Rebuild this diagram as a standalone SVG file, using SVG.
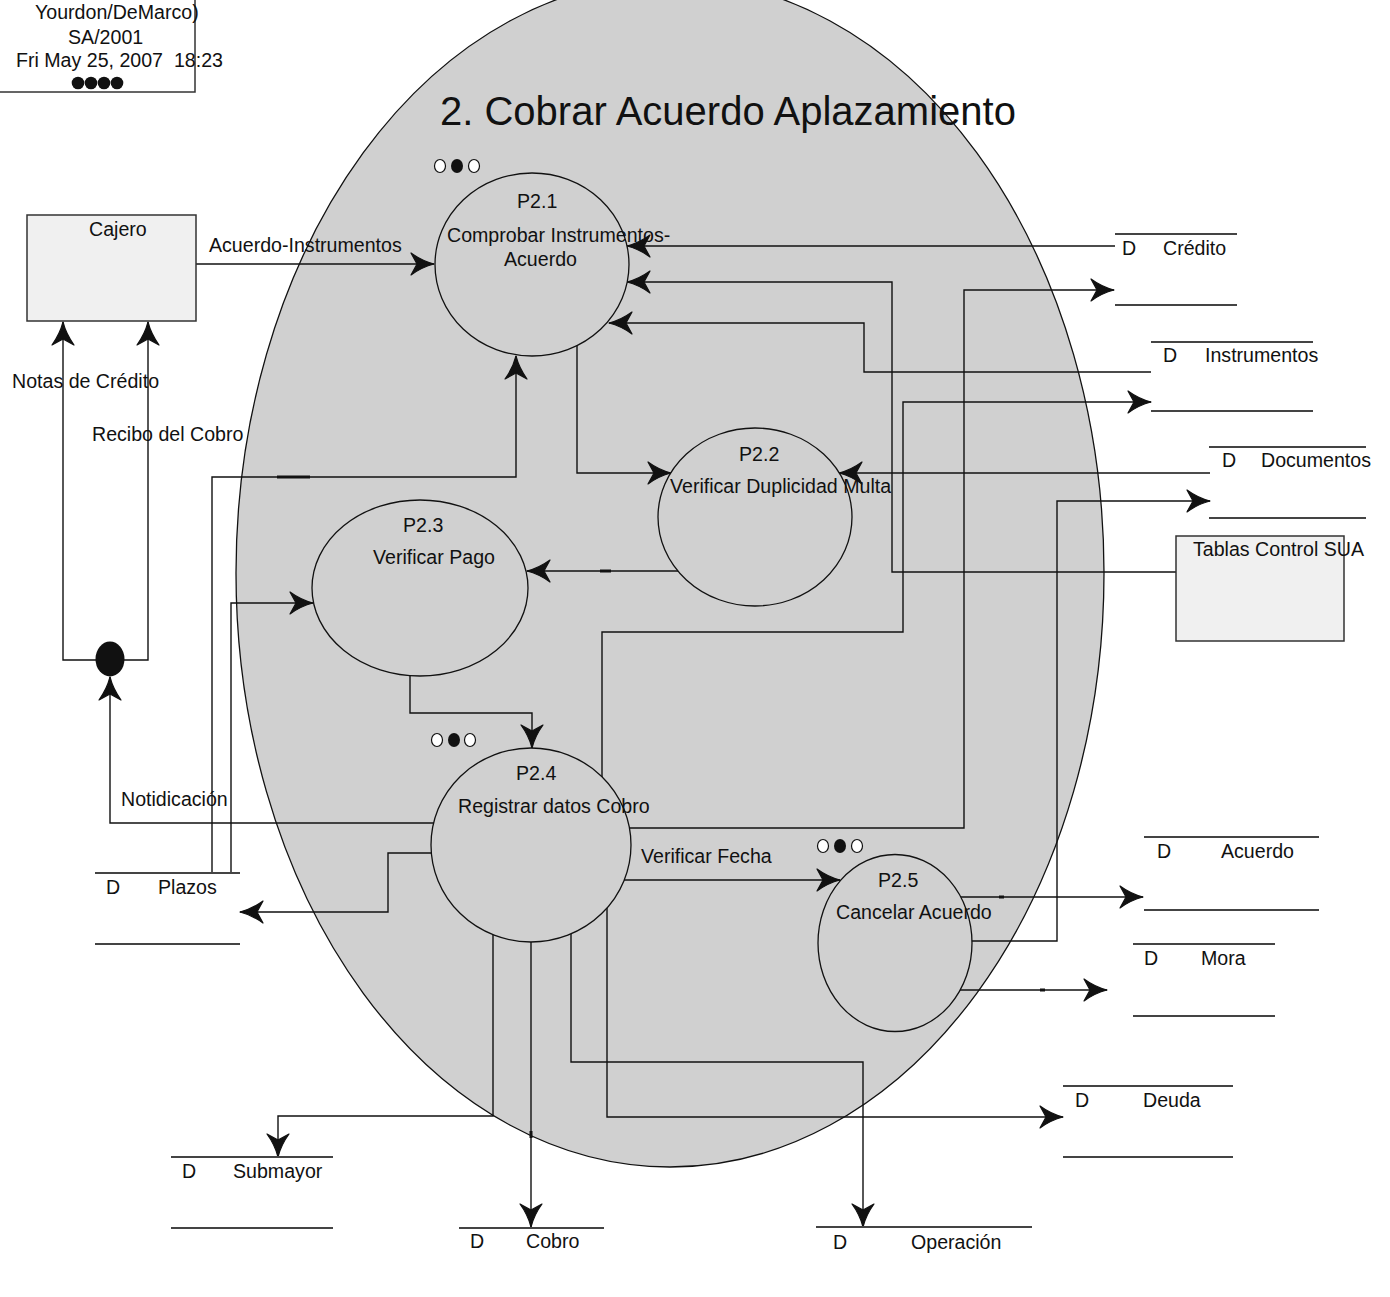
<svg xmlns="http://www.w3.org/2000/svg" width="1390" height="1297" viewBox="0 0 1390 1297">
  <style>
    .t { font-family: "Liberation Sans", Arial, sans-serif; font-size: 19.6px; fill: #111; }
    .title { font-size: 40px; }
    .conn { fill: none; stroke: #111; stroke-width: 1.4; }
    .tick { fill: none; stroke: #111; stroke-width: 3; }
    .proc { fill: #d0d0d0; stroke: #111; stroke-width: 1.3; }
    .ent { fill: #f0f0f0; stroke: #333; stroke-width: 1.5; }
    .store { stroke: #444; stroke-width: 1.8; }
    .dotf { fill: #111; }
    .doto { fill: #fff; stroke: #111; stroke-width: 1.2; }
  </style>
  <defs>
    <marker id="ah" viewBox="-26 -13 28 26" refX="0" refY="0" markerWidth="28" markerHeight="26" markerUnits="userSpaceOnUse" orient="auto">
      <path d="M0,0 Q-12,-3 -23,-11 L-17,0 L-23,11 Q-12,3 0,0 Z" fill="#111" stroke="#111" stroke-width="1.2" stroke-linejoin="round"/>
    </marker>
  </defs>

  <rect width="1390" height="1297" fill="#fff"/>

  <!-- parent process boundary -->
  <g id="proc-2">
    <ellipse class="proc" cx="670" cy="573" rx="434" ry="594"/>
    <text class="t title" x="440" y="125">2. Cobrar Acuerdo Aplazamiento</text>
  </g>

  <!-- header stamp -->
  <g id="header">
    <rect x="-2" y="-2" width="197" height="94" fill="#fff" stroke="#333" stroke-width="1.5"/>
    <text class="t" x="35" y="19">Yourdon/DeMarco)</text>
    <text class="t" x="68" y="44">SA/2001</text>
    <text class="t" x="16" y="67" xml:space="preserve">Fri May 25, 2007  18:23</text>
    <circle class="dotf" cx="78" cy="83" r="6.3"/>
    <circle class="dotf" cx="91" cy="83" r="6.3"/>
    <circle class="dotf" cx="104" cy="83" r="6.3"/>
    <circle class="dotf" cx="117" cy="83" r="6.3"/>
  </g>

  <!-- data flows -->
  <g id="connectors">
    <!-- Cajero -> P2.1 -->
    <path class="conn" d="M196,264 H434" marker-end="url(#ah)"/>
    <text class="t" x="209" y="252">Acuerdo-Instrumentos</text>
    <!-- Crédito -> P2.1 -->
    <path class="conn" d="M1115,246 H627" marker-end="url(#ah)"/>
    <!-- Tablas Control SUA -> P2.1 -->
    <path class="conn" d="M1176,572 H892 V282 H627" marker-end="url(#ah)"/>
    <!-- Instrumentos -> P2.1 -->
    <path class="conn" d="M1151,372 H864 V323 H609" marker-end="url(#ah)"/>
    <!-- P2.1 -> P2.2 -->
    <path class="conn" d="M577,345 V473 H671" marker-end="url(#ah)"/>
    <!-- Documentos -> P2.2 -->
    <path class="conn" d="M1210,473 H839" marker-end="url(#ah)"/>
    <!-- P2.2 -> P2.3 -->
    <path class="conn" d="M678,571 H527" marker-end="url(#ah)"/>
    <path class="tick" d="M600,571 H611"/>
    <!-- Plazos -> P2.3 -->
    <path class="conn" d="M231,873 V603 H313" marker-end="url(#ah)"/>
    <!-- Plazos -> P2.1 -->
    <path class="conn" d="M212,873 V477 H516 V356" marker-end="url(#ah)"/>
    <path class="tick" d="M277,477 H310"/>
    <!-- P2.3 -> P2.4 -->
    <path class="conn" d="M410,676 V713 H532 V748" marker-end="url(#ah)"/>
    <!-- P2.4 -> Notidicación junction -->
    <path class="conn" d="M434,823 H110 V677" marker-end="url(#ah)"/>
    <text class="t" x="121" y="806">Notidicación</text>
    <!-- junction -> Cajero -->
    <path class="conn" d="M96,660 H63 V322" marker-end="url(#ah)"/>
    <path class="conn" d="M124,660 H148 V322" marker-end="url(#ah)"/>
    <text class="t" x="12" y="388">Notas de Crédito</text>
    <text class="t" x="92" y="441">Recibo del Cobro</text>
    <!-- P2.4 -> Plazos -->
    <path class="conn" d="M433,853 H388 V912 H240" marker-end="url(#ah)"/>
    <!-- P2.4 -> Crédito -->
    <path class="conn" d="M630,828 H964 V290 H1114" marker-end="url(#ah)"/>
    <!-- P2.4 -> Instrumentos -->
    <path class="conn" d="M602,777 V632 H903 V402 H1151" marker-end="url(#ah)"/>
    <!-- P2.4 -> P2.5 -->
    <path class="conn" d="M624,880 H840" marker-end="url(#ah)"/>
    <text class="t" x="641" y="863">Verificar Fecha</text>
    <!-- P2.5 -> Acuerdo -->
    <path class="conn" d="M961,897 H1143" marker-end="url(#ah)"/>
    <path class="tick" d="M999,897 H1004"/>
    <!-- P2.5 -> Documentos -->
    <path class="conn" d="M971,941 H1057 V501 H1210" marker-end="url(#ah)"/>
    <!-- P2.5 -> Mora -->
    <path class="conn" d="M959,990 H1107" marker-end="url(#ah)"/>
    <path class="tick" d="M1040,990 H1045"/>
    <!-- P2.4 -> Submayor -->
    <path class="conn" d="M493,935 V1116 H278 V1157" marker-end="url(#ah)"/>
    <!-- P2.4 -> Cobro -->
    <path class="conn" d="M531,942 V1227" marker-end="url(#ah)"/>
    <path class="tick" d="M531,1131 V1138"/>
    <!-- P2.4 -> Operación -->
    <path class="conn" d="M571,934 V1062 H863 V1227" marker-end="url(#ah)"/>
    <!-- P2.4 -> Deuda -->
    <path class="conn" d="M607,907 V1117 H1063" marker-end="url(#ah)"/>
  </g>

  <!-- external entities -->
  <g id="cajero">
    <rect class="ent" x="27" y="215" width="169" height="106"/>
    <text class="t" x="89" y="236">Cajero</text>
  </g>
  <g id="tablas-control-sua">
    <rect class="ent" x="1176" y="536" width="168" height="105"/>
    <text class="t" x="1193" y="556">Tablas Control SUA</text>
  </g>
  <g id="junction">
    <ellipse class="dotf" cx="110" cy="659" rx="14.5" ry="17.5"/>
  </g>

  <!-- processes -->
  <g id="p2-1">
    <ellipse class="proc" cx="532" cy="264.5" rx="97" ry="91.5"/>
    <ellipse class="doto" cx="440" cy="166" rx="5.5" ry="6.5"/>
    <ellipse class="dotf" cx="457" cy="166" rx="6" ry="7"/>
    <ellipse class="doto" cx="474" cy="166" rx="5.5" ry="6.5"/>
    <text class="t" x="517" y="208">P2.1</text>
    <text class="t" x="447" y="242">Comprobar Instrumentos-</text>
    <text class="t" x="504" y="266">Acuerdo</text>
  </g>
  <g id="p2-2">
    <ellipse class="proc" cx="755" cy="517" rx="97" ry="89"/>
    <text class="t" x="739" y="461">P2.2</text>
    <text class="t" x="670" y="493">Verificar Duplicidad Multa</text>
  </g>
  <g id="p2-3">
    <ellipse class="proc" cx="420" cy="588" rx="108" ry="88"/>
    <text class="t" x="403" y="532">P2.3</text>
    <text class="t" x="373" y="564">Verificar Pago</text>
  </g>
  <g id="p2-4">
    <ellipse class="proc" cx="531" cy="845" rx="100" ry="97"/>
    <ellipse class="doto" cx="437" cy="740" rx="5.5" ry="6.5"/>
    <ellipse class="dotf" cx="454" cy="740" rx="6" ry="7"/>
    <ellipse class="doto" cx="470" cy="740" rx="5.5" ry="6.5"/>
    <text class="t" x="516" y="780">P2.4</text>
    <text class="t" x="458" y="813">Registrar datos Cobro</text>
  </g>
  <g id="p2-5">
    <ellipse class="proc" cx="895" cy="943" rx="77" ry="88.5"/>
    <ellipse class="doto" cx="823" cy="846" rx="5.5" ry="6.5"/>
    <ellipse class="dotf" cx="840" cy="846" rx="6" ry="7"/>
    <ellipse class="doto" cx="857" cy="846" rx="5.5" ry="6.5"/>
    <text class="t" x="878" y="887">P2.5</text>
    <text class="t" x="836" y="919">Cancelar Acuerdo</text>
  </g>

  <!-- data stores -->
  <g id="store-credito">
    <line class="store" x1="1115" y1="234" x2="1237" y2="234"/>
    <line class="store" x1="1115" y1="305" x2="1237" y2="305"/>
    <text class="t" x="1122" y="255">D</text>
    <text class="t" x="1163" y="255">Crédito</text>
  </g>
  <g id="store-instrumentos">
    <line class="store" x1="1151" y1="342" x2="1313" y2="342"/>
    <line class="store" x1="1151" y1="411" x2="1313" y2="411"/>
    <text class="t" x="1163" y="362">D</text>
    <text class="t" x="1205" y="362">Instrumentos</text>
  </g>
  <g id="store-documentos">
    <line class="store" x1="1209" y1="447" x2="1366" y2="447"/>
    <line class="store" x1="1209" y1="518" x2="1366" y2="518"/>
    <text class="t" x="1222" y="467">D</text>
    <text class="t" x="1261" y="467">Documentos</text>
  </g>
  <g id="store-plazos">
    <line class="store" x1="95" y1="873" x2="240" y2="873"/>
    <line class="store" x1="95" y1="944" x2="240" y2="944"/>
    <text class="t" x="106" y="894">D</text>
    <text class="t" x="158" y="894">Plazos</text>
  </g>
  <g id="store-acuerdo">
    <line class="store" x1="1144" y1="837" x2="1319" y2="837"/>
    <line class="store" x1="1144" y1="910" x2="1319" y2="910"/>
    <text class="t" x="1157" y="858">D</text>
    <text class="t" x="1221" y="858">Acuerdo</text>
  </g>
  <g id="store-mora">
    <line class="store" x1="1133" y1="944" x2="1275" y2="944"/>
    <line class="store" x1="1133" y1="1016" x2="1275" y2="1016"/>
    <text class="t" x="1144" y="965">D</text>
    <text class="t" x="1201" y="965">Mora</text>
  </g>
  <g id="store-deuda">
    <line class="store" x1="1063" y1="1086" x2="1233" y2="1086"/>
    <line class="store" x1="1063" y1="1157" x2="1233" y2="1157"/>
    <text class="t" x="1075" y="1107">D</text>
    <text class="t" x="1143" y="1107">Deuda</text>
  </g>
  <g id="store-submayor">
    <line class="store" x1="171" y1="1157" x2="333" y2="1157"/>
    <line class="store" x1="171" y1="1228" x2="333" y2="1228"/>
    <text class="t" x="182" y="1178">D</text>
    <text class="t" x="233" y="1178">Submayor</text>
  </g>
  <g id="store-cobro">
    <line class="store" x1="459" y1="1228" x2="604" y2="1228"/>
    <text class="t" x="470" y="1248">D</text>
    <text class="t" x="526" y="1248">Cobro</text>
  </g>
  <g id="store-operacion">
    <line class="store" x1="816" y1="1227" x2="1032" y2="1227"/>
    <text class="t" x="833" y="1249">D</text>
    <text class="t" x="911" y="1249">Operación</text>
  </g>
</svg>
